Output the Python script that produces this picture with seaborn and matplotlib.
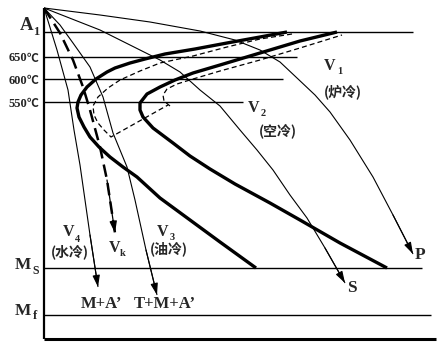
import matplotlib
matplotlib.use("Agg")
import matplotlib.pyplot as plt
import seaborn as sns

# ---------------- data (picture units: x = time, y = depth from top) ----------------
origin = [44, 8]
axis_bottom = 339
axis_right = 436

guide_names = ["A1", "650", "600", "550", "Ms", "Mf"]
temp_unit = "℃"
guide_y = [32.3, 56.7, 79.3, 102.3, 268.3, 315.3]
guide_end = [413, 297, 283, 243, 422, 431]

# transformation-start C curve (thick)
start_x = [287, 260, 227, 195, 165, 145, 130, 115, 107, 96, 87, 81, 78, 77, 79, 84, 90, 99, 110, 123, 137, 160, 190, 220, 256]
start_y = [32, 37, 43, 49, 54, 59, 63, 68, 72, 79, 87, 95, 102, 108, 117, 127, 137, 147, 157, 167, 177, 198, 220, 242, 268]
# transformation-finish C curve (thick)
finish_x = [337, 300, 260, 220, 193, 175, 160, 147, 140, 140, 143, 153, 173, 190, 210, 235, 270, 300, 340, 387]
finish_y = [32, 41, 53, 65, 73, 80, 87, 94, 103, 110, 117, 128, 143, 156, 169, 184, 203, 220, 243, 268]
# inner dashed curves
dash1_x = [292, 260, 227, 193, 160, 140, 120, 108, 98, 93, 94, 98, 104, 111, 168]
dash1_y = [34, 39, 47, 56, 63, 71, 80, 88, 97, 106, 115, 123, 130, 137, 105]
dash2_x = [170, 164, 163, 167, 177, 193, 220, 260, 300, 342]
dash2_y = [106, 101, 95, 89, 84, 79, 71, 60, 48, 35]

# cooling curves
v1_x = [44, 100, 150, 200, 235, 260, 280, 297, 315, 330, 350, 373, 393, 413]
v1_y = [8, 15, 22, 31, 40, 50, 62, 78, 95, 112, 140, 177, 215, 254]
v2_x = [44, 100, 140, 160, 180, 200, 220, 240, 257, 273, 290, 307, 325, 345]
v2_y = [8, 30, 50, 60, 72, 90, 106, 130, 150, 170, 195, 218, 248, 283]
v3_x = [44, 60, 73, 90, 103, 113, 127, 135, 146, 157]
v3_y = [8, 25, 43, 67, 97, 133, 167, 200, 250, 295]
vk_x = [44, 60, 73, 83, 90, 100, 107, 115]
vk_y = [8, 33, 60, 87, 110, 147, 180, 233]
v4_x = [44, 57, 68, 74, 80, 85, 90, 98]
v4_y = [8, 50, 90, 130, 165, 200, 235, 287]

# ---------------- drawing ----------------
sns.set_style("white")
LAT = ["Liberation Serif", "Noto Sans CJK SC", "DejaVu Sans"]
CJK = ["Noto Sans CJK SC", "Liberation Serif", "DejaVu Sans"]
plt.rcParams["font.family"] = LAT

fig = plt.figure(figsize=(4.44, 3.56), dpi=100)
ax = fig.add_axes([0, 0, 1, 1])


def curve(xs, ys, lw, dashes=None):
    sns.lineplot(x=xs, y=ys, sort=False, estimator=None, ax=ax,
                 color="black", lw=lw, solid_capstyle="butt",
                 solid_joinstyle="round")
    line = ax.lines[-1]
    if dashes is not None:
        line.set_dashes(dashes)
        line.set_dash_capstyle("butt")


def arrow_end(xs, ys, lw=0.8):
    ax.annotate("", xy=(xs[-1], ys[-1]), xytext=(xs[-2], ys[-2]),
                arrowprops=dict(arrowstyle="-|>,head_length=0.7,head_width=0.22",
                                color="black", lw=lw, shrinkA=0, shrinkB=0,
                                mutation_scale=10))


# axes frame
curve([origin[0], origin[0]], [origin[1], axis_bottom], 1.6)
curve([origin[0], axis_right], [axis_bottom, axis_bottom], 2.2)

# guide lines
for gy, ge in zip(guide_y, guide_end):
    curve([origin[0], ge], [gy, gy], 1.0)

# C curves
curve(start_x, start_y, 2.4)
curve(finish_x, finish_y, 2.4)
curve(dash1_x, dash1_y, 0.9, dashes=[4, 2.5])
curve(dash2_x, dash2_y, 0.9, dashes=[4, 2.5])

# cooling curves
for xs, ys in [(v1_x, v1_y), (v2_x, v2_y), (v3_x, v3_y), (v4_x, v4_y)]:
    curve(xs, ys, 0.8)
    arrow_end(xs, ys)
curve(vk_x, vk_y, 1.8, dashes=[5, 2.5])
arrow_end(vk_x, vk_y, lw=0.9)

ax.set_xlim(0, 444)
ax.set_ylim(356, 0)
ax.axis("off")


def t(x, y, s, size, fam=LAT, ha="center"):
    ax.text(x, y, s, fontsize=size, fontweight="bold", family=fam,
            ha=ha, va="center")


# left labels
t(27, 26, "A", 13.5)
t(36.5, 32, "1", 9)
for name, gy in zip(guide_names[1:4], guide_y[1:4]):
    t(27.5, gy + 1.5, name, 9, ha="right")
    t(27, gy + 1.5, temp_unit, 8.5, fam=CJK, ha="left")
t(23, 265, "M", 12.5)
t(36, 271, "S", 8.5)
t(23, 311, "M", 12.5)
t(35, 316, "f", 9)

# curve labels
t(330, 66, "V", 11.5)
t(339.5, 72, "1", 7.5)
t(343, 92, "(炉冷)", 10, fam=CJK)
t(254, 108, "V", 11.5)
t(263.5, 114, "2", 7.5)
t(278, 131, "(空冷)", 10, fam=CJK)
t(163, 232, "V", 11.5)
t(172, 238, "3", 7.5)
t(169, 249, "(油冷)", 10, fam=CJK)
t(69, 232, "V", 11.5)
t(77.5, 239, "4", 7.5)
t(70, 252, "(水冷)", 10, fam=CJK)
t(115, 248, "V", 11.5)
t(122.5, 254, "k", 7.5)
t(102, 304, "M+A’", 12)
t(165, 304, "T+M+A’", 12)
t(352, 288, "S", 12.5)
t(420, 255, "P", 12.5)

fig.savefig("out.png", dpi=100, facecolor="white")
